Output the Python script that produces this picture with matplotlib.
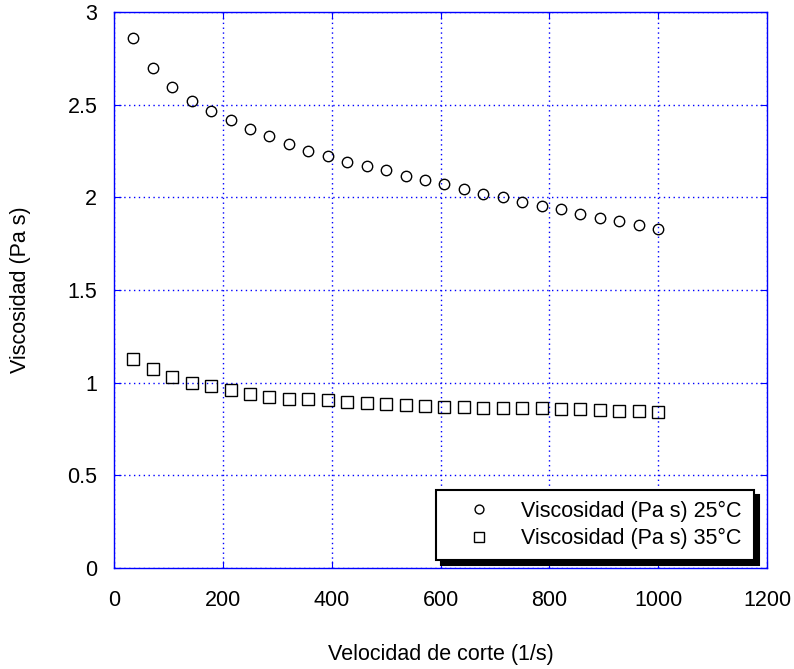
import matplotlib
matplotlib.use('Agg')
import matplotlib.pyplot as plt

plt.rcParams['font.family'] = ['Liberation Sans', 'DejaVu Sans']

# velocidad de corte (1/s)
vel = [35.7, 71.4, 107.1, 142.9, 178.6, 214.3, 250.0, 285.7, 321.4, 357.1,
       392.9, 428.6, 464.3, 500.0, 535.7, 571.4, 607.1, 642.9, 678.6, 714.3,
       750.0, 785.7, 821.4, 857.1, 892.9, 928.6, 964.3, 1000.0]

# viscosidad (Pa s)
visc25 = [2.862, 2.696, 2.594, 2.522, 2.466, 2.416, 2.371, 2.331, 2.290, 2.250,
          2.222, 2.193, 2.171, 2.146, 2.115, 2.094, 2.072, 2.045, 2.020, 2.000,
          1.977, 1.955, 1.936, 1.910, 1.889, 1.871, 1.851, 1.829]
visc35 = [1.126, 1.076, 1.033, 1.000, 0.982, 0.962, 0.937, 0.923, 0.914, 0.910,
          0.905, 0.897, 0.890, 0.883, 0.881, 0.874, 0.870, 0.867, 0.863, 0.863,
          0.863, 0.863, 0.860, 0.856, 0.852, 0.849, 0.845, 0.842]

etiquetas = ['Viscosidad (Pa s) 25°C', 'Viscosidad (Pa s) 35°C']

fs = 15.5
fig = plt.figure(figsize=(7.94, 6.69), dpi=100)
ax = fig.add_axes([0.1436, 0.151, 0.8224, 0.831])

ax.plot(vel, visc25, 'o', ms=7.5, mfc='none', mec='black', mew=1, label=etiquetas[0])
ax.plot(vel, visc35, 's', ms=8, mfc='none', mec='black', mew=1, label=etiquetas[1])

ax.set_xlim(0, 1200)
ax.set_ylim(0, 3)
ax.set_xticks([0, 200, 400, 600, 800, 1000, 1200])
ax.set_yticks([0, 0.5, 1, 1.5, 2, 2.5, 3])
ax.set_yticklabels(['0', '0.5', '1', '1.5', '2', '2.5', '3'])

ax.grid(True, color='blue', linestyle=(0, (1, 2.5)), linewidth=1)
for s in ax.spines.values():
    s.set_color('blue')
    s.set_linewidth(1)
ax.tick_params(direction='in', colors='blue', labelcolor='black', length=5,
               top=True, right=True, labelsize=fs)
ax.tick_params(axis='x', pad=16)
ax.tick_params(axis='y', pad=12)

ax.set_xlabel('Velocidad de corte (1/s)', fontsize=fs)
ax.set_ylabel('Viscosidad (Pa s)', fontsize=fs)
ax.xaxis.set_label_coords(0.5, -0.137)
ax.yaxis.set_label_coords(-0.127, 0.5)

leg = ax.legend(loc='lower left', bbox_to_anchor=(0.493, 0.0144, 0.487, 0.126),
                mode='expand', borderaxespad=0, fontsize=fs, fancybox=False,
                framealpha=1, edgecolor='black', borderpad=0.5,
                handlelength=3.0, handletextpad=0.45, labelspacing=0.3,
                markerscale=0.85,
                shadow={'ox': 3.5, 'oy': -3.5, 'facecolor': 'black',
                        'edgecolor': 'black', 'alpha': 1})
leg.get_frame().set_linewidth(1.5)

fig.savefig('out.png', dpi=100)
